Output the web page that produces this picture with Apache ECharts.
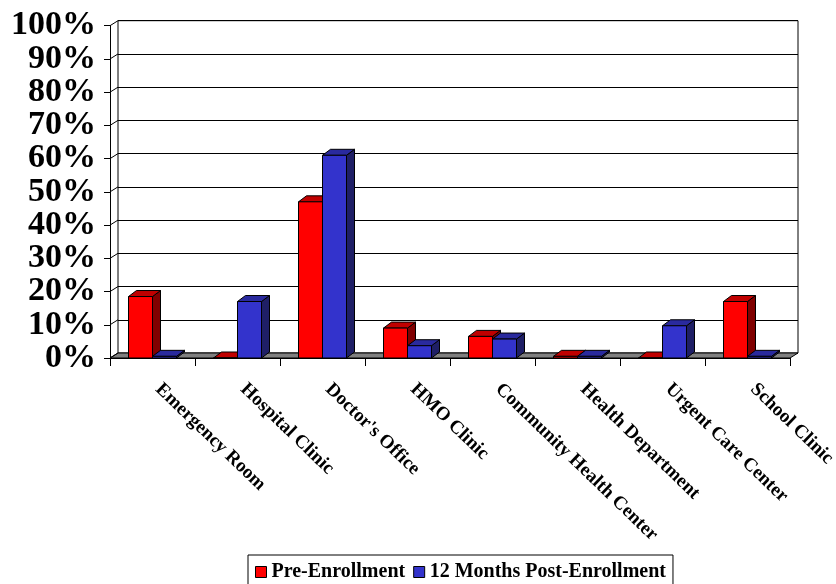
<!DOCTYPE html>
<html><head><meta charset="utf-8">
<script src="https://cdn.jsdelivr.net/npm/echarts@6/dist/echarts.min.js"></script>
<style>html,body{margin:0;padding:0;background:#fff}#c{width:836px;height:584px}</style>
</head><body><div id="c"></div>
<script>
const categories = ['Emergency Room', 'Hospital Clinic', "Doctor's Office", 'HMO Clinic', 'Community Health Center', 'Health Department', 'Urgent Care Center', 'School Clinic'];
const preEnrollment = [18.5, 0, 47, 9, 6.5, 0.5, 0, 17];
const postEnrollment = [0.5, 17, 61, 3.7, 5.7, 0.5, 9.7, 0.5];
const yTicks = [0, 10, 20, 30, 40, 50, 60, 70, 80, 90, 100];
const seriesNames = ['Pre-Enrollment', '12 Months Post-Enrollment'];

const FONT = '"Liberation Serif", "Times New Roman", serif';
const BAR_DX = 8, BAR_DY = -6;
const WALL_DX = 8, WALL_DY = -5;
const BAR_FRAC = 24 / 85;

const chart = echarts.init(document.getElementById('c'), null, {renderer: 'canvas'});

function barSeries(name, values, colors, side) {
  return {
    name: name,
    type: 'custom',
    xAxisIndex: 0, yAxisIndex: 0,
    z: 5,
    itemStyle: {color: colors.front},
    encode: {x: 0, y: 1},
    data: values.map((v, i) => [i, v]),
    renderItem: function (params, api) {
      const idx = api.value(0), v = api.value(1);
      const top = api.coord([idx, v]);
      const base = api.coord([idx, 0]);
      const w = api.size([1, 0])[0] * BAR_FRAC;
      const x0 = side === 0 ? top[0] - w : top[0];
      const y1 = top[1], y0 = base[1];
      const st = {stroke: '#000', lineWidth: 1};
      return {
        type: 'group',
        children: [
          {type: 'polygon', shape: {points: [[x0 + w, y1], [x0 + w, y0], [x0 + w + BAR_DX, y0 + BAR_DY], [x0 + w + BAR_DX, y1 + BAR_DY]]},
            style: Object.assign({fill: colors.side}, st)},
          {type: 'polygon', shape: {points: [[x0, y1], [x0 + w, y1], [x0 + w + BAR_DX, y1 + BAR_DY], [x0 + BAR_DX, y1 + BAR_DY]]},
            style: Object.assign({fill: colors.top}, st)},
          {type: 'rect', shape: {x: x0, y: y1, width: w, height: Math.max(y0 - y1, 0)},
            style: Object.assign({fill: colors.front}, st)}
        ]
      };
    }
  };
}

// y labels split over two overlaid axes so that neighbouring big labels are never auto-hidden
const yLabelStyle = {margin: 14, color: '#000', fontFamily: FONT, fontWeight: 'bold', fontSize: 34,
  showMinLabel: true, showMaxLabel: true, hideOverlap: false};

const option = {
  animation: false,
  backgroundColor: '#fff',
  grid: [
    {left: 110, right: 46, top: 25.7, bottom: 226, outerBoundsMode: 'none', containLabel: false},
    {left: 118, right: 38, top: 20.7, bottom: 231, outerBoundsMode: 'none', containLabel: false,
      show: true, borderColor: '#000', borderWidth: 1, backgroundColor: 'transparent'}
  ],
  xAxis: [
    {type: 'category', gridIndex: 0, data: categories,
      axisLine: {show: true, lineStyle: {color: '#000', width: 1}},
      axisTick: {show: true, length: 8, lineStyle: {color: '#000'}},
      axisLabel: {rotate: -44, margin: 23, interval: 0, color: '#000', fontFamily: FONT, fontWeight: 'bold', fontSize: 19,
        padding: [0, 0, 7, 8], hideOverlap: false},
      splitLine: {show: false}},
    {type: 'category', gridIndex: 1, data: categories, show: false}
  ],
  yAxis: [
    {type: 'value', gridIndex: 0, min: 0, max: 100, interval: 10, position: 'left',
      axisLine: {show: true, lineStyle: {color: '#000', width: 1}},
      axisTick: {show: true, length: 6, lineStyle: {color: '#000'}},
      axisLabel: Object.assign({formatter: v => (Math.round(v / 10) % 2 === 0 ? v + '%' : '')}, yLabelStyle),
      splitLine: {show: false}},
    {type: 'value', gridIndex: 1, min: 0, max: 100, interval: 10,
      axisLine: {show: false}, axisTick: {show: false}, axisLabel: {show: false},
      splitLine: {show: true, lineStyle: {color: '#000', width: 1}}},
    {type: 'value', gridIndex: 0, min: 0, max: 100, interval: 10, position: 'left', offset: 0,
      axisLine: {show: false}, axisTick: {show: false},
      axisLabel: Object.assign({formatter: v => (Math.round(v / 10) % 2 === 1 ? v + '%' : '')}, yLabelStyle),
      splitLine: {show: false}}
  ],
  legend: {
    left: 248, top: 555,
    data: seriesNames,
    icon: 'rect', itemWidth: 11, itemHeight: 11, itemGap: 8,
    padding: [7, 7, 10, 7],
    borderColor: '#000', borderWidth: 1,
    itemStyle: {borderColor: '#000', borderWidth: 1},
    textStyle: {color: '#000', fontFamily: FONT, fontWeight: 'bold', fontSize: 20}
  },
  series: [
    {
      name: 'floor', type: 'custom', xAxisIndex: 0, yAxisIndex: 0, z: 3,
      data: [[0, 0]], encode: {x: 0, y: 1}, silent: true,
      renderItem: function (params, api) {
        const cs = params.coordSys;
        const y = api.coord([0, 0])[1];
        const xl = cs.x, xr = cs.x + cs.width;
        return {type: 'polygon', shape: {points: [[xl, y], [xr, y], [xr + WALL_DX, y + WALL_DY], [xl + WALL_DX, y + WALL_DY]]},
          style: {fill: '#808080', stroke: '#000', lineWidth: 1}};
      }
    },
    {
      name: 'sidewall', type: 'custom', xAxisIndex: 0, yAxisIndex: 0, z: 3,
      data: yTicks.map(t => [0, t]), encode: {x: 0, y: 1}, silent: true,
      renderItem: function (params, api) {
        const cs = params.coordSys;
        const y = api.coord([0, api.value(1)])[1];
        return {type: 'line', shape: {x1: cs.x, y1: y, x2: cs.x + WALL_DX, y2: y + WALL_DY},
          style: {stroke: '#000', lineWidth: 1}};
      }
    },
    barSeries(seriesNames[0], preEnrollment, {front: '#FF0000', top: '#C00000', side: '#800000'}, 0),
    barSeries(seriesNames[1], postEnrollment, {front: '#3333CC', top: '#2A2A9E', side: '#1F1F66'}, 1)
  ]
};
chart.setOption(option);
</script>
</body></html>
